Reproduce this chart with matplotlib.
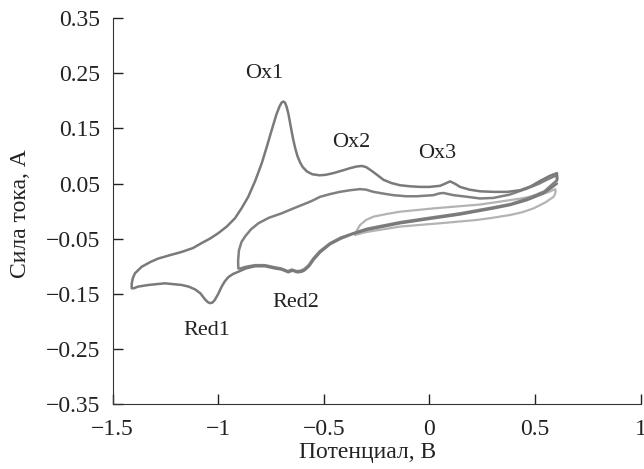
import matplotlib
matplotlib.use("Agg")
import matplotlib.pyplot as plt
import numpy as np

plt.rcParams['font.family'] = ['Liberation Serif', 'DejaVu Serif']

# внешняя петля: катодная ветвь (справа налево), затем анодная (слева направо)
outer_v = [0.604, 0.580, 0.540, 0.462, 0.382, 0.303, 0.145, 0.019, -0.139, -0.297,
           -0.360, -0.420, -0.470, -0.518, -0.548, -0.570, -0.590, -0.605, -0.625,
           -0.650, -0.668, -0.700, -0.731, -0.780, -0.826, -0.870, -0.905, -0.930,
           -0.953, -0.970, -0.984, -1.000, -1.016, -1.028, -1.039, -1.050, -1.063,
           -1.085, -1.110, -1.140, -1.173, -1.253, -1.331, -1.380, -1.400, -1.410,
           -1.410, -1.405, -1.395, -1.363, -1.320, -1.284, -1.230, -1.173, -1.120,
           -1.079, -1.040, -1.0, -0.960, -0.921, -0.890, -0.858, -0.825, -0.794,
           -0.770, -0.747, -0.725, -0.710, -0.700, -0.692, -0.684, -0.676, -0.668,
           -0.655, -0.645, -0.636, -0.625, -0.612, -0.600, -0.580, -0.555, -0.520,
           -0.490, -0.455, -0.410, -0.376, -0.345, -0.320, -0.300, -0.273, -0.245,
           -0.218, -0.180, -0.139, -0.090, -0.044, 0.000, 0.051, 0.075, 0.098,
           0.120, 0.145, 0.190, 0.240, 0.303, 0.370, 0.430, 0.480, 0.525, 0.570,
           0.604, 0.606]
outer_i = [0.050, 0.043, 0.032, 0.020, 0.011, 0.005, -0.006, -0.013, -0.022, -0.034,
           -0.041, -0.050, -0.060, -0.075, -0.088, -0.100, -0.107, -0.110, -0.111,
           -0.108, -0.111, -0.106, -0.104, -0.100, -0.100, -0.104, -0.110, -0.114,
           -0.120, -0.128, -0.137, -0.150, -0.161, -0.166, -0.167, -0.165, -0.160,
           -0.149, -0.142, -0.137, -0.134, -0.131, -0.134, -0.137, -0.140, -0.140,
           -0.132, -0.122, -0.113, -0.101, -0.092, -0.086, -0.080, -0.074, -0.067,
           -0.058, -0.050, -0.040, -0.028, -0.013, 0.005, 0.026, 0.055, 0.087,
           0.117, 0.147, 0.175, 0.190, 0.197, 0.199, 0.197, 0.189, 0.177,
           0.150, 0.130, 0.115, 0.100, 0.088, 0.080, 0.072, 0.067, 0.065,
           0.066, 0.069, 0.074, 0.078, 0.081, 0.082, 0.080, 0.073, 0.065,
           0.057, 0.051, 0.047, 0.045, 0.044, 0.044, 0.046, 0.050, 0.054,
           0.050, 0.044, 0.039, 0.036, 0.035, 0.035, 0.038, 0.045, 0.055, 0.064,
           0.069, 0.058]

# внутренняя петля (разворот при -0.9 В)
inner_v = [0.604, 0.580, 0.545, 0.465, 0.385, 0.305, 0.145, 0.019, -0.139, -0.297,
           -0.360, -0.420, -0.470, -0.520, -0.550, -0.572, -0.592, -0.608, -0.628,
           -0.652, -0.670, -0.702, -0.731, -0.780, -0.826, -0.870, -0.895,
           -0.905, -0.906, -0.902, -0.890, -0.873, -0.845, -0.810, -0.760, -0.700,
           -0.650, -0.605, -0.560, -0.518, -0.470, -0.424, -0.375, -0.328, -0.300,
           -0.265, -0.220, -0.171, -0.110, -0.060, 0.019, 0.045, 0.066, 0.090,
           0.114, 0.180, 0.240, 0.303, 0.380, 0.462, 0.520, 0.556, 0.590, 0.604,
           0.604]
inner_i = [0.056, 0.048, 0.036, 0.023, 0.013, 0.007, -0.004, -0.011, -0.020, -0.032,
           -0.040, -0.048, -0.058, -0.073, -0.086, -0.098, -0.105, -0.108, -0.109,
           -0.106, -0.109, -0.104, -0.102, -0.098, -0.098, -0.101, -0.104,
           -0.104, -0.090, -0.071, -0.056, -0.046, -0.033, -0.022, -0.012, -0.004,
           0.004, 0.011, 0.018, 0.026, 0.031, 0.035, 0.038, 0.040, 0.039,
           0.035, 0.032, 0.029, 0.027, 0.027, 0.029, 0.032, 0.033, 0.031,
           0.029, 0.026, 0.023, 0.024, 0.030, 0.041, 0.050, 0.057, 0.063, 0.064,
           0.056]

# светлая кривая (первый цикл)
light_v = [-0.352, -0.345, -0.328, -0.300, -0.265, -0.200, -0.139, 0.019, 0.145, 0.240,
           0.382, 0.450, 0.509, 0.560, 0.596, 0.598, 0.595, 0.588, 0.550, 0.493,
           0.440, 0.382, 0.300, 0.225, 0.050, -0.139, -0.300, -0.352]
light_i = [-0.043, -0.036, -0.025, -0.016, -0.010, -0.005, -0.001, 0.005, 0.009, 0.012,
           0.020, 0.024, 0.029, 0.034, 0.040, 0.036, 0.031, 0.026, 0.016, 0.005,
           -0.002, -0.007, -0.012, -0.016, -0.022, -0.028, -0.038, -0.043]

peak_labels = ['Ox1', 'Ox2', 'Ox3', 'Red1', 'Red2']
peak_v = [-0.782, -0.368, 0.038, -1.055, -0.633]
peak_i = [0.249, 0.125, 0.104, -0.217, -0.165]

x_ticks = [-1.5, -1, -0.5, 0, 0.5, 1]
x_labels = ['\u22121.5', '\u22121', '\u22120.5', '0', '0.5', '1']
y_ticks = [0.35, 0.25, 0.15, 0.05, -0.05, -0.15, -0.25, -0.35]

fig = plt.figure(figsize=(6.44, 4.69), dpi=100)
ax = fig.add_axes([0.175, 0.1386, 0.8196, 0.8224])

kw = dict(solid_joinstyle='round', solid_capstyle='round')
ax.plot(light_v, light_i, color='#b3b3b3', lw=1.6, **kw)
ax.plot(inner_v, inner_i, color='#808080', lw=1.8, **kw)
ax.plot(outer_v, outer_i, color='#7a7a7a', lw=1.8, **kw)

for lab, v, i in zip(peak_labels, peak_v, peak_i):
    ax.text(v, i, lab, fontsize=16, ha='center', va='center', color='#222222')

ax.set_xlim(-1.5, 1)
ax.set_ylim(-0.35, 0.35)
ax.set_xticks(x_ticks)
ax.set_xticklabels(x_labels)
ax.set_yticks(y_ticks)
ax.set_yticklabels(['%.2f' % t if t >= 0 else '\u2212%.2f' % abs(t) for t in y_ticks])
ax.tick_params(direction='in', length=7, width=1, labelsize=17, colors='#222222')
ax.tick_params(axis='y', pad=9)
ax.tick_params(axis='x', pad=11)
ax.spines['top'].set_visible(False)
ax.spines['right'].set_visible(False)
for s in ['left', 'bottom']:
    ax.spines[s].set_color('#333333')

ax.set_xlabel('Потенциал, В', fontsize=17, color='#222222')
ax.set_ylabel('Сила тока, А', fontsize=17, color='#222222')
ax.xaxis.set_label_coords(0.482, -0.098)
ax.yaxis.set_label_coords(-0.154, 0.493)

fig.savefig('out.png', dpi=100)
